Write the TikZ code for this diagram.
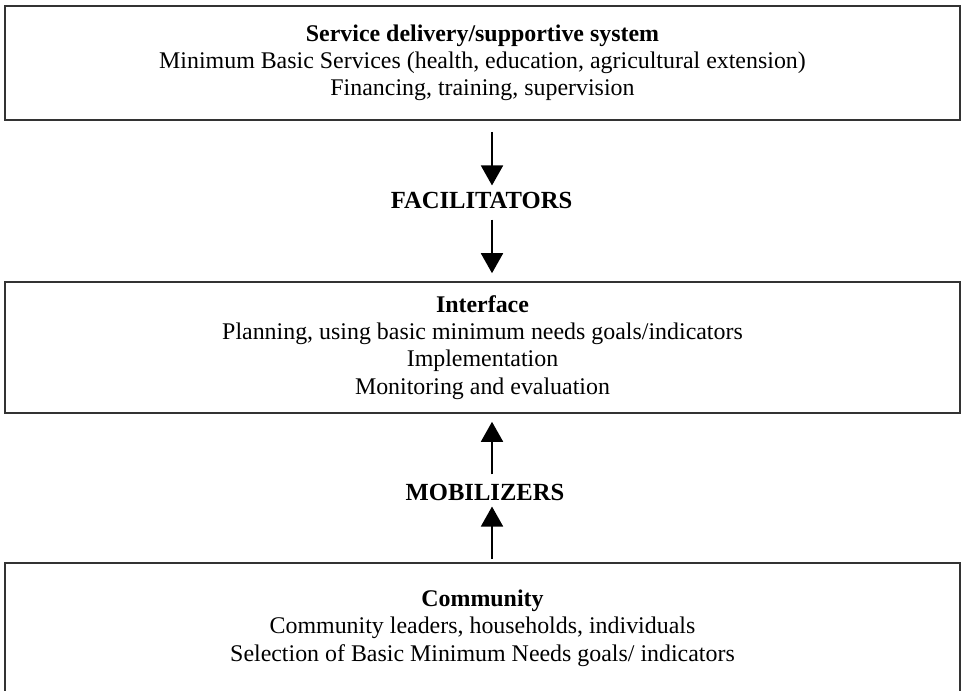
\documentclass[tikz,border=0pt]{standalone}
\usepackage{fontspec}
\setmainfont{Liberation Serif}
\usetikzlibrary{arrows.meta, positioning, calc}

\begin{document}
\begin{tikzpicture}[
  x=0.025cm, y=-0.025cm,
  box/.style={rectangle, draw=black!80, line width=1.1pt, minimum width=23.875cm, align=center, inner sep=0pt,
    font=\fontsize{17}{19.4}\selectfont},
  agent/.style={inner sep=0pt, font=\fontsize{17.5}{20}\selectfont\bfseries},
  arrow/.style={-{Triangle[width=0.55cm, length=0.5cm]}, line width=1.3pt}
]
  \useasboundingbox (0,0) rectangle (961,691);
  \coordinate (axis) at (492,0);
  \node[box, minimum height=2.85cm] (service) at (482.5,63)
    {\textbf{Service delivery/supportive system}\\
     Minimum Basic Services (health, education, agricultural extension)\\
     Financing, training, supervision};
  \node[agent] (facil) at (481.5,200) {FACILITATORS};
  \node[box, minimum height=3.275cm] (interface) at (482.5,347.5)
    {\textbf{Interface}\\
     Planning, using basic minimum needs goals/indicators\\
     Implementation\\
     Monitoring and evaluation};
  \node[agent] (mobil) at (485,492) {MOBILIZERS};
  \node[box, minimum height=3.25cm] (community) at (482.5,628)
    {\textbf{Community}\\
     Community leaders, households, individuals\\
     Selection of Basic Minimum Needs goals/ indicators};
  % facilitators go down, mobilizers go up
  \draw[arrow, shorten <=0.275cm, shorten >=0.15cm] (service.south -| axis) -- (facil.north -| axis);
  \draw[arrow, shorten <=0.275cm, shorten >=0.2cm] (facil.south -| axis) -- (interface.north -| axis);
  \draw[arrow, shorten <=0.225cm, shorten >=0.2cm] (mobil.north -| axis) -- (interface.south -| axis);
  \draw[arrow, shorten <=0.075cm, shorten >=0.15cm] (community.north -| axis) -- (mobil.south -| axis);
\end{tikzpicture}
\end{document}
